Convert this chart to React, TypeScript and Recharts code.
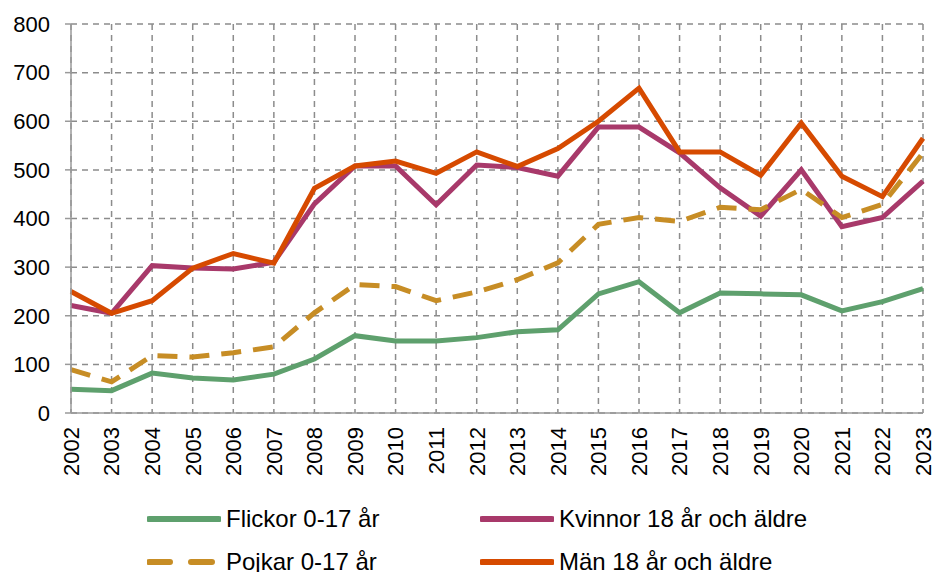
import { LineChart, Line, XAxis, YAxis, CartesianGrid } from 'recharts';

const years = [
  '2002', '2003', '2004', '2005', '2006', '2007', '2008', '2009', '2010', '2011', '2012',
  '2013', '2014', '2015', '2016', '2017', '2018', '2019', '2020', '2021', '2022', '2023',
];
const flickor = [49, 46, 82, 72, 68, 80, 111, 159, 148, 148, 155, 167, 171, 245, 270, 206, 247, 245, 243, 210, 229, 256];
const pojkar = [89, 64, 118, 115, 124, 136, 206, 264, 260, 231, 249, 274, 309, 388, 402, 394, 423, 418, 460, 402, 429, 535];
const kvinnor = [221, 205, 303, 298, 296, 310, 430, 508, 508, 428, 510, 505, 487, 588, 588, 535, 463, 405, 500, 383, 402, 477];
const man = [250, 205, 231, 298, 328, 308, 462, 508, 518, 493, 537, 507, 544, 600, 668, 537, 537, 489, 596, 487, 445, 565];
const yTicks = [0, 100, 200, 300, 400, 500, 600, 700, 800];

const series = [
  { key: 'flickor', name: 'Flickor 0-17 år', color: '#5ea06d', dash: undefined },
  { key: 'kvinnor', name: 'Kvinnor 18 år och äldre', color: '#a8396a', dash: undefined },
  { key: 'pojkar', name: 'Pojkar 0-17 år', color: '#c78d25', dash: '20 12' },
  { key: 'man', name: 'Män 18 år och äldre', color: '#d64a00', dash: undefined },
];

const data = years.map((year, i) => ({
  year,
  flickor: flickor[i],
  pojkar: pojkar[i],
  kvinnor: kvinnor[i],
  man: man[i],
}));

const font = '"Liberation Sans", Arial, sans-serif';

function YearTick(props: any) {
  const { x, y, payload } = props;
  const ty = y + 6;
  return (
    <text
      x={x}
      y={ty}
      transform={`rotate(-90, ${x}, ${ty})`}
      textAnchor="end"
      dy="0.36em"
      fontSize={22}
      fontFamily={font}
      fill="#000"
    >
      {payload.value}
    </text>
  );
}

export default function App() {
  const legendPos = [
    { left: 147, top: 519 },
    { left: 480, top: 519 },
    { left: 147, top: 562 },
    { left: 480, top: 562 },
  ];
  return (
    <div style={{ position: 'absolute', left: 0, top: 0, width: 934, height: 572, background: '#fff' }}>
      <LineChart
        width={934}
        height={572}
        data={data}
        margin={{ top: 24, right: 11, left: 0, bottom: 0 }}
      >
        <CartesianGrid stroke="#8c8c8c" strokeWidth={1.5} strokeDasharray="6 5" />
        <XAxis
          dataKey="year"
          height={159}
          interval={0}
          tick={<YearTick />}
          tickLine={false}
          axisLine={{ stroke: '#9a9a9a', strokeWidth: 1.5 }}
        />
        <YAxis
          width={71}
          domain={[0, 800]}
          ticks={yTicks}
          tickSize={6}
          tickMargin={15}
          tickLine={{ stroke: '#9a9a9a', strokeWidth: 1.5 }}
          axisLine={{ stroke: '#9a9a9a', strokeWidth: 1.5 }}
          tick={{ fontSize: 22, fontFamily: font, fill: '#000' }}
        />
        {series.map((s) => (
          <Line
            key={s.key}
            type="linear"
            dataKey={s.key}
            name={s.name}
            stroke={s.color}
            strokeWidth={5}
            strokeDasharray={s.dash}
            dot={false}
            activeDot={false}
            isAnimationActive={false}
          />
        ))}
      </LineChart>
      {series.map((s, i) => (
        <div
          key={s.key}
          style={{
            position: 'absolute',
            left: legendPos[i].left,
            top: legendPos[i].top - 15,
            height: 30,
            display: 'flex',
            alignItems: 'center',
            fontFamily: font,
            fontSize: 24,
            color: '#000',
            whiteSpace: 'nowrap',
          }}
        >
          <svg width={74} height={10} style={{ marginRight: 5 }}>
            <line
              x1={2}
              y1={5}
              x2={72}
              y2={5}
              stroke={s.color}
              strokeWidth={6}
              strokeLinecap="round"
              strokeDasharray={s.dash ? '21 21' : undefined}
            />
          </svg>
          {s.name}
        </div>
      ))}
    </div>
  );
}
